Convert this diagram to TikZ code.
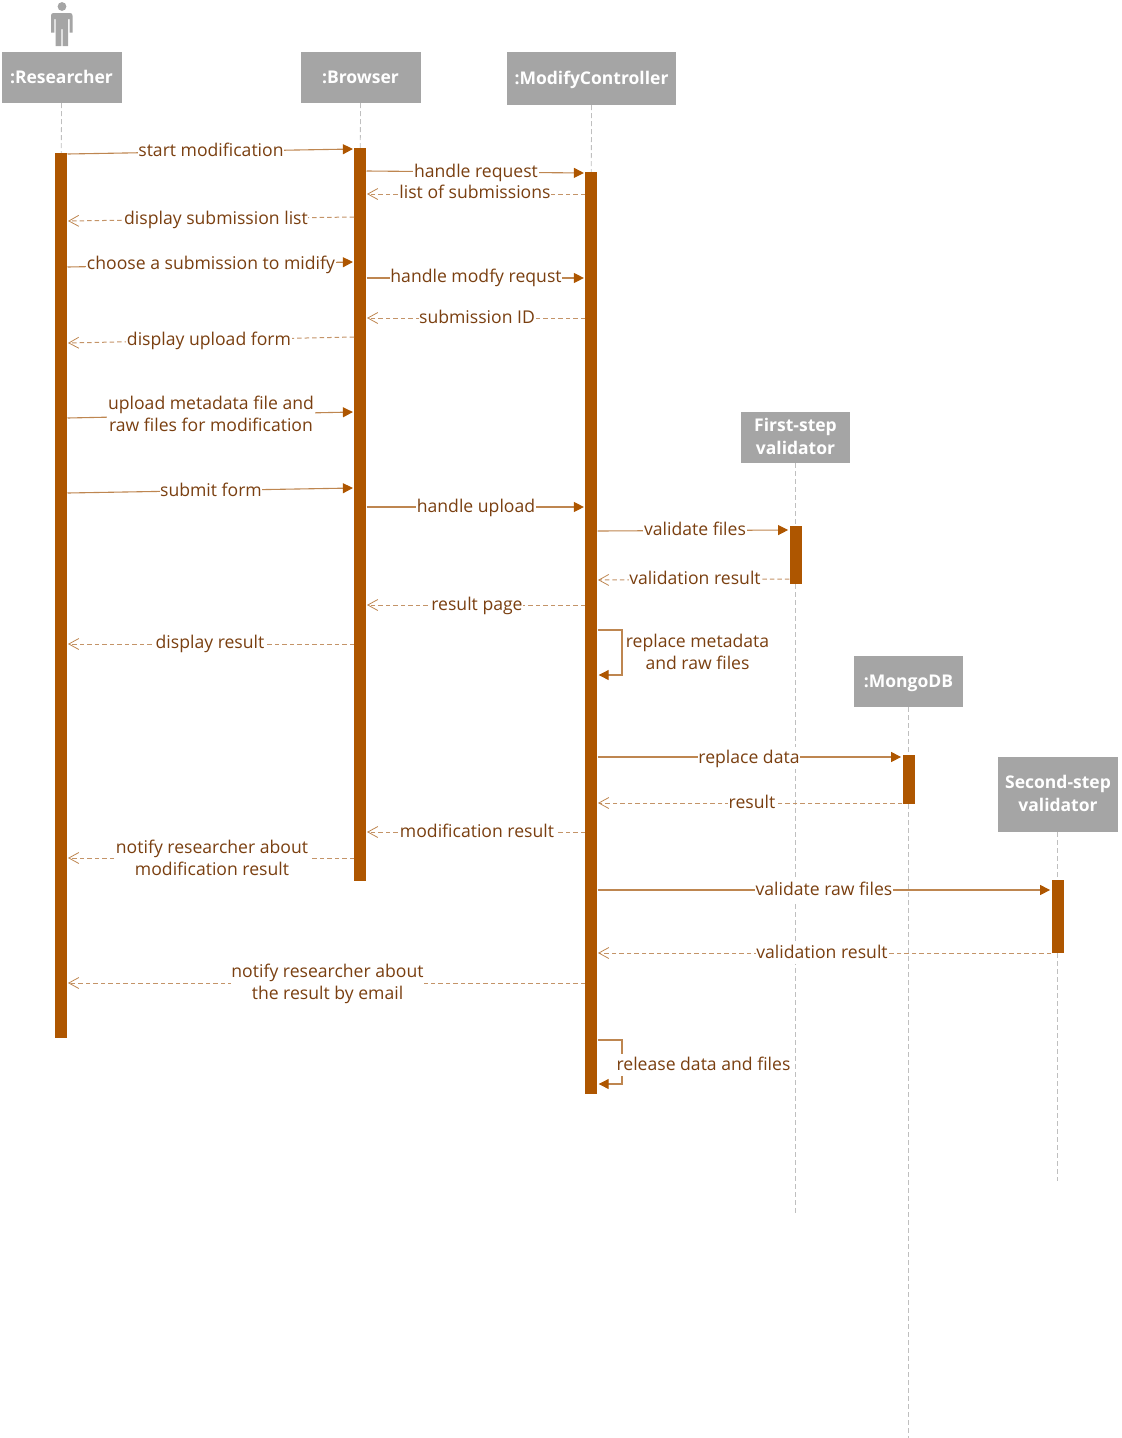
\documentclass[tikz,border=0pt]{standalone}
\usepackage{fontspec}
\setmainfont{Open Sans}
\usetikzlibrary{arrows.meta}
\definecolor{barc}{HTML}{AE5600}
\definecolor{linec}{HTML}{BE8650}
\definecolor{dashc}{HTML}{C49468}
\definecolor{txtc}{HTML}{7A3F10}
\definecolor{headc}{HTML}{A5A5A5}
\definecolor{lifec}{HTML}{BFBFBF}
\newcommand{\lblA}{\rule{0pt}{15pt}}
\newcommand{\lblB}{\rule[-5pt]{0pt}{5pt}}
\newcommand{\headA}{\rule{0pt}{17pt}}
\newcommand{\headB}{\rule[-6pt]{0pt}{6pt}}
\tikzset{
  head/.style={fill=headc,draw=none,inner sep=0pt,text=white,align=center,
    font=\fontsize{17.5}{22.5}\selectfont\bfseries},
  actbar/.style={fill=barc,draw=none,inner sep=0pt,minimum width=12pt},
  life/.style={draw=lifec,line width=.8pt,dash pattern=on 5pt off 3pt},
  call/.style={draw=linec,line width=1.1pt,shorten >=1.2pt,
    -{Triangle[length=10pt,width=10pt,fill=barc,color=barc]}},
  ret/.style={draw=dashc,line width=1pt,dash pattern=on 4.5pt off 3pt,shorten >=.5pt,
    -{Straight Barb[length=10pt,width=11pt,line width=.8pt,color=linec]}},
  lbl/.style={fill=white,inner sep=.6pt,text=txtc,align=center,yshift=-1pt,
    font=\fontsize{17.6}{22}\selectfont},
  note/.style={lbl,fill=none},
  actor/.style={fill=headc,draw=none}
}
\newcommand{\headbox}[6]{\node[head,minimum width=#4pt,minimum height=#5pt] (#1) at (#2,#3) {\headA #6\headB};}
\newcommand{\actbox}[4]{\node[actbar,minimum height=#4pt-#3pt] (#1) at (#2,{(#3+#4)/2}) {};}
\newcommand{\msg}[7]{\draw[#1] (#2 |- 0,#3) -- (#4 |- 0,#5);
  \node[lbl] at (#6) {\lblA #7\lblB};}
\begin{document}
\begin{tikzpicture}[x=1pt,y=-1pt]
\useasboundingbox (0,0) rectangle (1122,1438);
% actor
\fill[actor] (62,6.5) circle (4.4);
\fill[actor] (53.5,13) -- (70,13) .. controls (71.5,13) and (72.5,14) .. (72.5,15.5) -- (72.5,32.5) -- (69.5,32.5) -- (69.5,19) -- (68,19) -- (68,46) -- (62.7,46) -- (62.7,29) -- (61.3,29) -- (61.3,46) -- (55.5,46) -- (55.5,19) -- (54.3,19) -- (54.3,32.5) -- (51,32.5) -- (51,15.5) .. controls (51,14) and (52,13) .. (53.5,13) -- cycle;
% headers
\headbox{rs}{61.5}{77.5}{120}{51}{:Researcher}
\headbox{br}{360.5}{77.5}{120}{51}{:Browser}
\headbox{mc}{591.5}{78.5}{169}{53}{:ModifyController}
\headbox{fs}{795.5}{437.5}{109}{51}{First-step\\validator}
\headbox{mg}{908.5}{681.5}{109}{51}{:MongoDB}
\headbox{ss}{1058}{794.5}{120}{75}{Second-step\\validator}
% lifeline ends
\coordinate (fsend) at (795.5,1213);
\coordinate (mgend) at (908.5,1438);
\coordinate (ssend) at (1057.5,1181);
% activation bars
\actbox{ra}{61.3}{153}{1038}
\actbox{ba}{360.3}{148}{881}
\actbox{ca}{591.3}{172}{1094}
\actbox{fa}{795.5}{526}{584}
\actbox{ma}{908.5}{755}{804}
\actbox{sa}{1057.5}{880}{953}
% lifelines
\draw[life] (rs.south) -- (ra.north);
\draw[life] (br.south) -- (ba.north);
\draw[life] (mc.south) -- (ca.north);
\draw[life] (fs.south) -- (fa.north);
\draw[life] (fa.south) -- (fsend);
\draw[life] (mg.south) -- (ma.north);
\draw[life] (ma.south) -- (mgend);
\draw[life] (ss.south -| sa.north) -- (sa.north);
\draw[life] (sa.south) -- (ssend);
% messages
\msg{call}{ra.east}{154}{ba.west}{149}{211,150}{start modification}
\msg{call}{ba.east}{171}{ca.west}{173}{476,171}{handle request}
\msg{ret}{ca.west}{194}{ba.east}{194}{475,192}{list of submissions}
\msg{ret}{ba.west}{217}{ra.east}{221}{216,218}{display submission list}
\msg{call}{ra.east}{267}{ba.west}{262}{211,263}{choose a submission to midify}
\msg{call}{ba.east}{278}{ca.west}{278}{476,276}{handle modfy requst}
\msg{ret}{ca.west}{318}{ba.east}{318}{477,317}{submission ID}
\msg{ret}{ba.west}{337}{ra.east}{343}{209,339}{display upload form}
\msg{call}{ra.east}{418}{ba.west}{412}{211,414}{upload metadata file and\\raw files for modification}
\msg{call}{ra.east}{493}{ba.west}{488}{211,490}{submit form}
\msg{call}{ba.east}{507}{ca.west}{507}{476,506}{handle upload}
\msg{call}{ca.east}{531}{fa.west}{530}{695,529}{validate files}
\msg{ret}{fa.west}{579}{ca.east}{580}{695,578}{validation result}
\msg{ret}{ca.west}{605}{ba.east}{605}{477,604}{result page}
\msg{ret}{ba.west}{644}{ra.east}{644}{210,642}{display result}
\draw[call] (ca.east |- 0,630) -- (622,630) -- (622,675) -- (ca.east |- 0,675);
\node[note] at (697.5,652.5) {\lblA replace metadata\\and raw files\lblB};
\msg{call}{ca.east}{757}{ma.west}{757}{749,757}{replace data}
\msg{ret}{ma.west}{803}{ca.east}{803}{752,802}{result}
\msg{ret}{ca.west}{832}{ba.east}{832}{477,831}{modification result}
\msg{ret}{ba.west}{858}{ra.east}{858}{212,858}{notify researcher about\\modification result}
\msg{call}{ca.east}{890}{sa.west}{890}{824,889}{validate raw files}
\msg{ret}{sa.west}{953}{ca.east}{953}{822,952}{validation result}
\msg{ret}{ca.west}{983}{ra.east}{983}{327.5,982.5}{notify researcher about\\the result by email}
\draw[call] (ca.east |- 0,1040) -- (622,1040) -- (622,1084) -- (ca.east |- 0,1084);
\node[lbl] at (703.5,1064) {\lblA release data and files\lblB};
\end{tikzpicture}
\end{document}
